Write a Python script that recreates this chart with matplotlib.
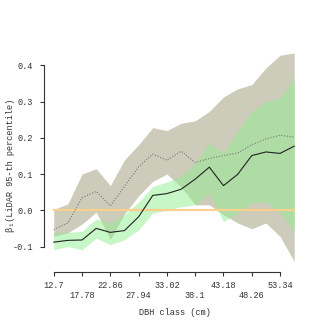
import matplotlib
matplotlib.use("Agg")
import matplotlib.pyplot as plt
from matplotlib.ticker import FixedLocator, FormatStrFormatter

# ---- data ----
dbh = [12.7, 15.24, 17.78, 20.32, 22.86, 25.4, 27.94, 30.48, 33.02, 35.56,
       38.1, 40.64, 43.18, 45.72, 48.26, 50.8, 53.34, 55.88]
beta_solid = [-0.088, -0.083, -0.082, -0.050, -0.061, -0.056, -0.018, 0.041, 0.046, 0.058,
              0.086, 0.119, 0.068, 0.099, 0.151, 0.161, 0.157, 0.177]
beta_dotted = [-0.053, -0.035, 0.035, 0.052, 0.012, 0.066, 0.120, 0.155, 0.138, 0.163,
               0.132, 0.143, 0.151, 0.158, 0.181, 0.197, 0.207, 0.202]
gray_upper = [0.002, 0.018, 0.100, 0.115, 0.068, 0.139, 0.181, 0.228, 0.220, 0.240,
              0.247, 0.273, 0.313, 0.335, 0.347, 0.393, 0.428, 0.434]
gray_lower = [-0.072, -0.062, -0.038, -0.005, -0.080, -0.010, 0.040, 0.080, 0.100, 0.065,
              0.015, 0.015, -0.012, -0.035, -0.051, -0.035, -0.072, -0.141]
green_upper = [-0.062, -0.061, -0.058, -0.024, -0.035, -0.012, 0.022, 0.066, 0.078, 0.095,
               0.128, 0.185, 0.158, 0.218, 0.273, 0.300, 0.310, 0.365]
green_lower = [-0.109, -0.100, -0.109, -0.077, -0.095, -0.081, -0.054, -0.008, 0.000, 0.010,
               0.015, 0.047, -0.031, -0.008, 0.020, 0.024, -0.008, -0.059]
xticks = [12.7, 17.78, 22.86, 27.94, 33.02, 38.1, 43.18, 48.26, 53.34]
xtick_labels = ["12.7", "17.78", "22.86", "27.94", "33.02", "38.1", "43.18", "48.26", "53.34"]
yticks = [-0.1, 0.0, 0.1, 0.2, 0.3, 0.4]

FONT = ["Liberation Mono", "DejaVu Sans Mono"]
plt.rcParams["font.family"] = FONT
FS = 6.2
TXT = "#333333"

fig = plt.figure(figsize=(3.27, 3.27), dpi=100)
ax = fig.add_axes([0.1346, 0.1697, 0.8012, 0.6869])

ax.fill_between(dbh, gray_lower, gray_upper, color="#CDCBB9", linewidth=0, zorder=1)
ax.fill_between(dbh, green_lower, green_upper, color="#90EE90", alpha=0.5, linewidth=0, zorder=2)
ax.plot([dbh[0], dbh[-1]], [0, 0], color="#FAD08E", linewidth=1.6, zorder=3)
ax.plot(dbh, beta_dotted, color="#777777", linestyle=(0, (1, 1.5)), linewidth=0.8, zorder=4)
ax.plot(dbh, beta_solid, color="#222222", linewidth=0.8, zorder=5)

ax.set_xlim(10.95, 58.0)
ax.set_ylim(-0.169, 0.451)

for s in ["top", "right"]:
    ax.spines[s].set_visible(False)
ax.spines["left"].set_bounds(-0.1, 0.4)
ax.spines["bottom"].set_bounds(12.7, 53.34)
for s in ["left", "bottom"]:
    ax.spines[s].set_color(TXT)
    ax.spines[s].set_linewidth(0.8)

ax.xaxis.set_major_locator(FixedLocator(xticks))
labels = [l if i % 2 == 0 else "\n" + l for i, l in enumerate(xtick_labels)]
ax.set_xticklabels(labels)
ax.yaxis.set_major_locator(FixedLocator(yticks))
ax.yaxis.set_major_formatter(FormatStrFormatter("%.1f"))
ax.tick_params(axis="both", colors=TXT, labelsize=FS, length=3, width=0.8)
ax.tick_params(axis="y", pad=5)
ax.tick_params(axis="x", pad=3.5)
for t in ax.get_xticklabels():
    t.set_linespacing(1.15)
    t.set_verticalalignment("top")

ax.set_xlabel("DBH class (cm)", fontsize=FS, color=TXT, labelpad=6)
ax.set_ylabel("β\u2081(LiDAR 95-th percentile)", fontsize=FS, color=TXT)
ax.yaxis.set_label_coords(-0.112, 0.474)

fig.savefig("out.png", dpi=100)
